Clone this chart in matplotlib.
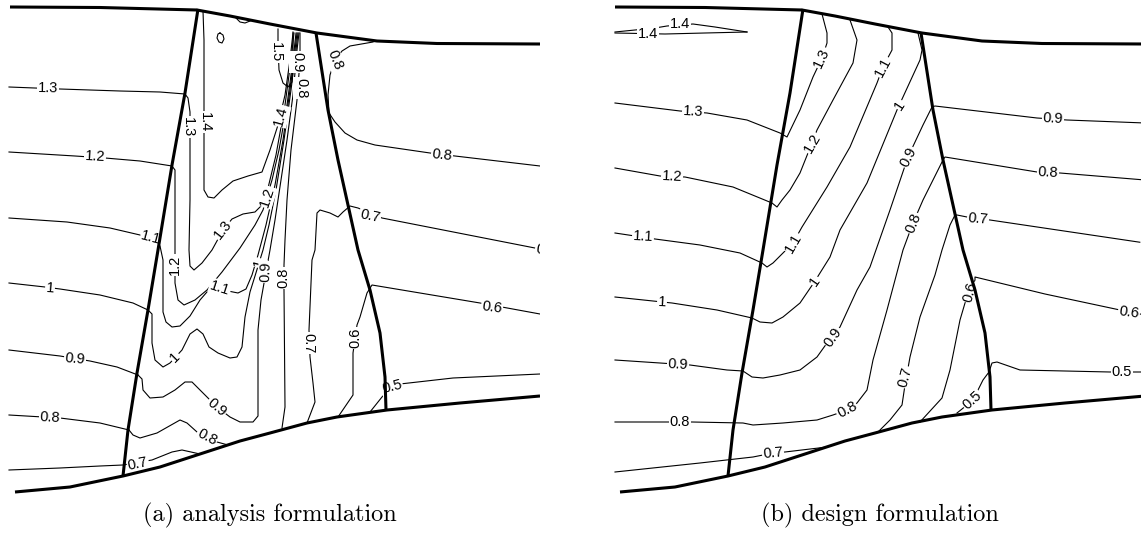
import matplotlib.pyplot as plt

# passage geometry, same for both cases (plot units, y pointing down)
TOP_WALL = [(10, 7), (100, 7.5), (197, 10), (230, 16), (270, 24), (317, 33),
            (377, 41), (437, 43.5), (540, 44)]
BOT_WALL = [(15, 492), (70, 487), (123, 476), (160, 467), (200, 454), (240, 441),
            (270, 433), (307, 423), (337, 417), (387, 410), (460, 403), (540, 396)]
BLADE_LE = [(198, 9), (185, 93), (172, 165), (158, 250), (148, 310), (137, 373),
            (128, 430), (123, 476)]
BLADE_TE = [(316, 33), (328, 110), (338, 160), (348, 205), (358, 250), (370, 290),
            (380, 333), (385, 377), (386, 410)]

# (a) analysis formulation: iso-Mach lines
ANA_LINES = [
    [(9, 87), (60, 89), (120, 91), (160, 92), (185, 94)],
    [(185, 94), (188, 98), (190, 112), (190, 200), (189, 250), (190, 266), (194, 270),
     (202, 263), (212, 250), (223, 230), (232, 219), (243, 214), (255, 212), (262, 205),
     (268, 188), (276, 155), (285, 105), (291, 60), (294, 33)],
    [(9, 152), (75, 156), (105, 158), (140, 161), (172, 166)],
    [(172, 166), (175, 170), (175, 250), (175, 283), (178, 300), (184, 305), (195, 300),
     (207, 290), (222, 272), (240, 248), (255, 225), (263, 210), (272, 180), (279, 150),
     (287, 105), (293, 60), (296, 33)],
    [(9, 218), (67, 222), (110, 228), (140, 235), (160, 246)],
    [(160, 246), (163, 260), (163, 312), (166, 322), (172, 327), (180, 326), (190, 316),
     (200, 300), (213, 285), (228, 291), (238, 293), (246, 289), (252, 275), (258, 255),
     (266, 225), (275, 185), (283, 140), (290, 90), (295, 50), (297, 33)],
    [(9, 283), (45, 287), (60, 289), (100, 295), (133, 303), (148, 310)],
    [(148, 310), (152, 314), (152, 343), (155, 360), (163, 367), (170, 363), (182, 350),
     (190, 334), (197, 329), (203, 334), (209, 347), (218, 353), (230, 358), (237, 357),
     (242, 347), (245, 317), (250, 292), (255, 276), (263, 250), (269, 225), (276, 190),
     (284, 140), (291, 90), (296, 50), (298, 33)],
    [(9, 350), (60, 356), (90, 361), (117, 367), (138, 375)],
    [(138, 375), (142, 379), (143, 390), (150, 398), (163, 397), (175, 390), (185, 382),
     (192, 382), (203, 393), (217, 407), (230, 417), (240, 422), (253, 422), (258, 416),
     (258, 380), (258, 330), (261, 300), (266, 272), (270, 250), (275, 220), (281, 180),
     (287, 140), (293, 95), (297, 50), (299, 33)],
    [(9, 415), (60, 418), (100, 423), (129, 430)],
    [(129, 430), (133, 435), (140, 438), (157, 433), (180, 420), (187, 423), (197, 432),
     (207, 437), (217, 442), (228, 445)],
    [(9, 470), (60, 468), (100, 466), (123, 465), (152, 460), (172, 452), (182, 450),
     (200, 454)],
    [(203, 11), (204, 40), (204, 100), (204, 190), (208, 197), (214, 198), (222, 190),
     (233, 181), (248, 176), (262, 172), (270, 150), (278, 125), (285, 95), (290, 60),
     (293, 33)],
    [(278, 29), (278, 45), (279, 70), (283, 83), (288, 87), (292, 82), (293, 60), (293, 32)],
    [(220, 33), (223, 35), (224, 39), (222, 43), (219, 42), (217, 38), (218, 34), (220, 33)],
    [(236, 18), (240, 22), (245, 23), (250, 21)],
    [(300, 33), (300, 60), (297, 100), (291, 150), (287, 200), (285, 240), (284, 265),
     (284, 290), (285, 407), (282, 428)],
    [(373, 42), (350, 46), (342, 51), (335, 60), (330, 75), (328, 95), (329, 113),
     (335, 122), (345, 133), (357, 140), (375, 145), (430, 153), (455, 156), (540, 166)],
    [(307, 423), (315, 402), (313, 383), (310, 357), (309, 330), (312, 260), (315, 250),
     (317, 213), (320, 210), (330, 213), (338, 217), (343, 212), (350, 206), (358, 208),
     (382, 218), (540, 249)],
    [(338, 417), (353, 395), (353, 353), (357, 325), (360, 317), (367, 293), (372, 285),
     (420, 293), (480, 303), (540, 314)],
    [(370, 412), (382, 397), (392, 386), (400, 384), (453, 378), (540, 374)],
]
ANA_LABELS = [
    (1.3, 48, 88, -1), (1.3, 188, 127, -90), (1.3, 223, 230, 52),
    (1.2, 95, 157, -3), (1.2, 175, 265, 90), (1.2, 267, 197, 72),
    (1.1, 151, 238, -15), (1.1, 220, 288, -18),
    (1, 50, 288, -4), (1, 175, 357, 45), (1, 259, 263, 75),
    (0.9, 75, 359, -5), (0.9, 217, 407, -40), (0.9, 266, 272, 88),
    (0.8, 50, 418, -3), (0.8, 207, 437, -28), (0.8, 283, 278, 90),
    (0.7, 138, 464, 12),
    (1.4, 205, 122, -90), (1.4, 281, 116, 75),
    (1.5, 276, 52, -90), (0.9, 297, 62, -90), (0.8, 301, 88, -90),
    (0.8, 335, 60, -68), (0.8, 442, 155, -6),
    (0.7, 308, 343, -90), (0.7, 370, 216, -12), (0.7, 546, 250, -8),
    (0.6, 355, 338, 90), (0.6, 492, 307, -8),
    (0.5, 392, 387, 14),
]

# (b) design formulation: iso-Mach lines
DES_LINES = [
    [(10, 32), (50, 28), (62, 26), (88, 24), (110, 27), (142, 32)],
    [(10, 33), (60, 34), (100, 33), (142, 32)],
    [(10, 103), (75, 111), (102, 113), (142, 120), (175, 133), (182, 137), (195, 110),
     (208, 77), (217, 58), (222, 43), (222, 33), (217, 14)],
    [(10, 168), (55, 176), (80, 177), (128, 187), (167, 203), (172, 207), (177, 200),
     (185, 190), (195, 173), (207, 143), (212, 130), (228, 100), (248, 63), (252, 40),
     (245, 20)],
    [(10, 233), (50, 239), (95, 245), (135, 253), (157, 263), (162, 267), (168, 263),
     (178, 253), (188, 243), (197, 227), (222, 187), (245, 147), (272, 83), (278, 67),
     (287, 50), (287, 33), (283, 27)],
    [(10, 297), (67, 303), (112, 310), (147, 318), (155, 322), (167, 323), (178, 317),
     (195, 303), (210, 281), (225, 257), (235, 230), (262, 183), (292, 110), (298, 97),
     (315, 60), (317, 50), (313, 33)],
    [(10, 360), (85, 365), (122, 370), (138, 371), (147, 377), (158, 378), (175, 375),
     (195, 370), (212, 357), (222, 343), (235, 327), (252, 290), (265, 267), (285, 210),
     (303, 157), (318, 125), (327, 107), (330, 106), (432, 118), (462, 120), (540, 123)],
    [(10, 422), (87, 422), (138, 423), (148, 425), (178, 423), (212, 420), (228, 415),
     (242, 410), (252, 403), (262, 390), (268, 360), (282, 310), (298, 250), (308, 223),
     (318, 200), (338, 160), (340, 157), (432, 172), (455, 173), (540, 180)],
    [(10, 472), (95, 463), (148, 457), (168, 453), (180, 452), (222, 447)],
    [(273, 432), (285, 420), (297, 405), (300, 385), (305, 357), (315, 317), (330, 275),
     (337, 250), (345, 225), (350, 215), (352, 215), (362, 217), (385, 220), (540, 243)],
    [(315, 422), (337, 398), (345, 370), (350, 345), (355, 320), (360, 303), (365, 292),
     (370, 280), (370, 277), (440, 294), (515, 310), (540, 315)],
    [(352, 413), (362, 405), (373, 390), (378, 380), (384, 372), (387, 363), (392, 362),
     (415, 370), (505, 372), (540, 372)],
]
DES_LABELS = [
    (1.4, 75, 24, 0), (1.4, 43, 34, 0),
    (1.3, 88, 112, -3), (1.3, 217, 58, 65),
    (1.2, 67, 177, -3), (1.2, 207, 143, 60),
    (1.1, 38, 237, -3), (1.1, 188, 243, 60), (1.1, 278, 67, 62),
    (1, 57, 302, -3), (1, 210, 281, 55), (1, 295, 105, 57),
    (0.9, 73, 365, -3), (0.9, 228, 337, 55), (0.9, 303, 157, 63), (0.9, 448, 119, -3),
    (0.8, 75, 422, 0), (0.8, 242, 410, 28), (0.8, 308, 223, 68), (0.8, 443, 173, -3),
    (0.7, 168, 453, 5), (0.7, 300, 377, 75), (0.7, 373, 219, -5), (0.7, 546, 246, -8),
    (0.6, 365, 292, 75), (0.6, 524, 312, -8),
    (0.5, 367, 400, 42), (0.5, 517, 372, 0),
]

W, H = 1141, 541
fig = plt.figure(figsize=(W / 100, H / 100), dpi=100)


def draw_case(left, width, lines, labels):
    ax = fig.add_axes([left / W, (H - 500) / H, width / W, 500 / H])
    ax.set_xlim(0, width)
    ax.set_ylim(500, 0)
    ax.axis('off')
    for pts in lines:
        xs, ys = zip(*pts)
        ax.plot(xs, ys, color='black', lw=0.8, zorder=1)
    for lev, x, y, rot in labels:
        ax.text(x, y, '%g' % lev, rotation=rot, rotation_mode='anchor',
                ha='center', va='center', fontsize=10.5, family='Liberation Sans',
                bbox=dict(fc='white', ec='none', pad=0.6), zorder=2, clip_on=True)
    for pts in (TOP_WALL, BOT_WALL, BLADE_LE, BLADE_TE):
        xs, ys = zip(*pts)
        ax.plot(xs, ys, color='black', lw=2.2, zorder=3, solid_capstyle='butt')
    return ax


draw_case(0, 540, ANA_LINES, ANA_LABELS)
draw_case(605, 536, DES_LINES, DES_LABELS)

fig.text(270 / W, 1 - 515 / H, '(a) analysis formulation', ha='center', va='center',
         family='cmr10', fontsize=17.5)
fig.text(880 / W, 1 - 515 / H, '(b) design formulation', ha='center', va='center',
         family='cmr10', fontsize=17.5)

fig.savefig('out.png', dpi=100)
